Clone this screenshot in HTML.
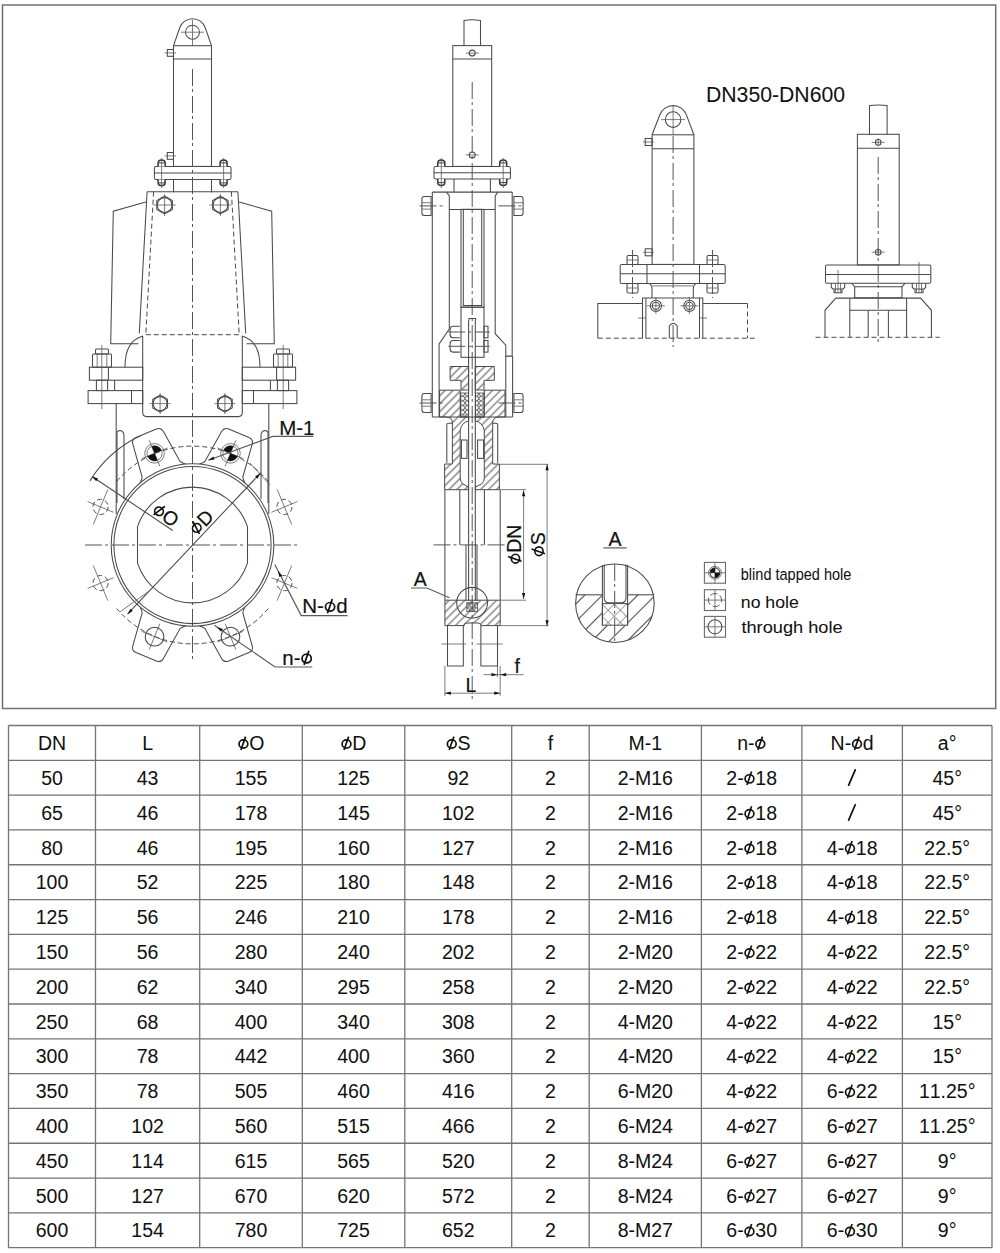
<!DOCTYPE html>
<html><head><meta charset="utf-8">
<style>
html,body{margin:0;padding:0;background:#fff;width:1000px;height:1253px;overflow:hidden}
svg{display:block;font-family:"Liberation Sans",sans-serif;font-kerning:none}
</style></head><body>
<svg width="1000" height="1253" viewBox="0 0 1000 1253">
<rect x="2.5" y="5" width="993.2" height="703.5" fill="none" stroke="#707070" stroke-width="1.5"/>
<style>
.s{fill:none;stroke:#4a4a4a;stroke-width:1.05}
.t{fill:none;stroke:#5a5a5a;stroke-width:0.8}
.d{fill:none;stroke:#4a4a4a;stroke-width:1;stroke-dasharray:5 3}
.cl{fill:none;stroke:#555;stroke-width:1;stroke-dasharray:17 3 3 4}
.sf{fill:#fff;stroke:#4a4a4a;stroke-width:1}
.ld{fill:none;stroke:#5a5a5a;stroke-width:1.2}
.nut{fill:#fff;stroke:#333;stroke-width:1.5}
.fill{fill:#111;stroke:none}
.phi{fill:none;stroke:#111}
.hat{fill:url(#hatch);stroke:#4a4a4a;stroke-width:1}
text{fill:#111;stroke:#111;stroke-width:0.18}
.tt text{stroke-width:0.04}
.lg text{stroke-width:0.05}
</style>
<defs>
<pattern id="xhatch" patternUnits="userSpaceOnUse" width="4.6" height="4.6" x="0.4" y="0.6">
<circle cx="2.3" cy="2.3" r="2.05" fill="none" stroke="#505050" stroke-width="0.9"/>
</pattern>
<pattern id="hatchA" patternUnits="userSpaceOnUse" width="12.5" height="12.5" patternTransform="rotate(45) translate(3 0)">
<line x1="6.25" y1="0" x2="6.25" y2="12.5" stroke="#4a4a4a" stroke-width="1.1"/>
</pattern>
<pattern id="xhatchA" patternUnits="userSpaceOnUse" width="8.6" height="8.6" patternTransform="rotate(45) translate(1 1)">
<line x1="0" y1="0" x2="0" y2="8.6" stroke="#4a4a4a" stroke-width="1"/>
<line x1="0" y1="0" x2="8.6" y2="0" stroke="#4a4a4a" stroke-width="1"/>
</pattern>
<pattern id="hatch" patternUnits="userSpaceOnUse" width="5.6" height="5.6" patternTransform="rotate(45)">
<line x1="2.8" y1="0" x2="2.8" y2="5.6" stroke="#505050" stroke-width="1"/>
</pattern>
</defs>
<path class="s" d="M173.50,45.70 L179.75,27.76 A13.5 13.5 0 0 1 205.25,27.76 L211.50,45.70" />
<circle class="s" cx="192.50" cy="32.20" r="7.00"/>
<line class="t" x1="181.00" y1="32.20" x2="204.00" y2="32.20"/>
<line class="t" x1="192.50" y1="20.00" x2="192.50" y2="45.70"/>
<rect class="s" x="173.50" y="45.70" width="38.00" height="120.70" rx="0"/>
<line class="s" x1="173.50" y1="59.00" x2="211.50" y2="59.00"/>
<line class="s" x1="173.50" y1="179.60" x2="173.50" y2="192.40"/>
<line class="s" x1="211.50" y1="179.60" x2="211.50" y2="192.40"/>
<rect class="s" x="167.30" y="49.50" width="6.20" height="6.80" rx="0"/>
<line class="t" x1="164.50" y1="52.90" x2="176.00" y2="52.90"/>
<rect class="s" x="167.30" y="152.50" width="6.20" height="6.80" rx="0"/>
<line class="t" x1="164.50" y1="155.90" x2="176.00" y2="155.90"/>
<rect class="s" x="154.40" y="166.40" width="76.60" height="13.20" rx="1.5"/>
<line class="s" x1="154.40" y1="173.00" x2="231.00" y2="173.00"/>
<path class="nut" d="M158.10,166.40 L158.10,162.88 Q158.10,160.00 161.60,160.00 Q165.10,160.00 165.10,162.88 L165.10,166.40" />
<line class="s" x1="158.10" y1="162.88" x2="165.10" y2="162.88"/>
<path class="nut" d="M158.10,179.60 L158.10,182.90 Q158.10,185.60 161.60,185.60 Q165.10,185.60 165.10,182.90 L165.10,179.60" />
<line class="s" x1="158.10" y1="182.90" x2="165.10" y2="182.90"/>
<line class="t" x1="161.60" y1="158.00" x2="161.60" y2="188.00"/>
<path class="nut" d="M220.10,166.40 L220.10,162.88 Q220.10,160.00 223.60,160.00 Q227.10,160.00 227.10,162.88 L227.10,166.40" />
<line class="s" x1="220.10" y1="162.88" x2="227.10" y2="162.88"/>
<path class="nut" d="M220.10,179.60 L220.10,182.90 Q220.10,185.60 223.60,185.60 Q227.10,185.60 227.10,182.90 L227.10,179.60" />
<line class="s" x1="220.10" y1="182.90" x2="227.10" y2="182.90"/>
<line class="t" x1="223.60" y1="158.00" x2="223.60" y2="188.00"/>
<line class="cl" x1="192.50" y1="69.00" x2="192.50" y2="662.00"/>
<path class="s" d="M147.10,191.70 L139.30,333.40"/>
<path class="s" d="M237.90,191.70 L245.70,333.40"/>
<line class="s" x1="147.10" y1="191.70" x2="237.90" y2="191.70"/>
<line class="d" x1="153.60" y1="191.70" x2="145.80" y2="334.70"/>
<line class="d" x1="231.40" y1="191.70" x2="239.20" y2="334.70"/>
<line class="d" x1="145.80" y1="334.70" x2="239.20" y2="334.70"/>
<path class="s" d="M145.80,202.10 L113.30,211.20 L110.70,343.80 L138.50,343.80"/>
<path class="s" d="M239.20,202.10 L271.70,211.20 L274.30,343.80 L246.50,343.80"/>
<path class="s" d="M172.39,209.50 L164.60,214.00 L156.81,209.50 L156.81,200.50 L164.60,196.00 L172.39,200.50 Z"/>
<circle class="s" cx="164.60" cy="205.00" r="7.40"/>
<line class="t" x1="153.60" y1="205.00" x2="175.60" y2="205.00"/>
<line class="t" x1="164.60" y1="194.00" x2="164.60" y2="216.00"/>
<path class="s" d="M228.19,209.50 L220.40,214.00 L212.61,209.50 L212.61,200.50 L220.40,196.00 L228.19,200.50 Z"/>
<circle class="s" cx="220.40" cy="205.00" r="7.40"/>
<line class="t" x1="209.40" y1="205.00" x2="231.40" y2="205.00"/>
<line class="t" x1="220.40" y1="194.00" x2="220.40" y2="216.00"/>
<path class="s" d="M142.7,336 L142.7,412.6 Q142.7,416.6 146.7,416.6 L238.3,416.6 Q242.3,416.6 242.3,412.6 L242.3,336" />
<path class="s" d="M167.46,407.85 L160.10,412.10 L152.74,407.85 L152.74,399.35 L160.10,395.10 L167.46,399.35 Z"/>
<circle class="s" cx="160.10" cy="403.60" r="6.99"/>
<line class="t" x1="149.60" y1="403.60" x2="170.60" y2="403.60"/>
<line class="t" x1="160.10" y1="393.10" x2="160.10" y2="414.10"/>
<path class="s" d="M232.26,407.85 L224.90,412.10 L217.54,407.85 L217.54,399.35 L224.90,395.10 L232.26,399.35 Z"/>
<circle class="s" cx="224.90" cy="403.60" r="6.99"/>
<line class="t" x1="214.40" y1="403.60" x2="235.40" y2="403.60"/>
<line class="t" x1="224.90" y1="393.10" x2="224.90" y2="414.10"/>
<path class="s" d="M125,367.2 C125,350 130,340 143,336" />
<path class="s" d="M260.0,367.2 C260.0,350 255.0,340 242.0,336" />
<rect class="s" x="89.40" y="367.20" width="53.30" height="13.00" rx="0"/>
<rect class="s" x="88.10" y="390.60" width="54.60" height="13.00" rx="0"/>
<line class="s" x1="108.40" y1="367.20" x2="108.40" y2="380.20"/>
<line class="s" x1="131.50" y1="390.60" x2="131.50" y2="403.60"/>
<line class="s" x1="114.60" y1="380.20" x2="114.60" y2="390.60"/>
<line class="t" x1="97.20" y1="354.00" x2="97.20" y2="367.20"/>
<line class="t" x1="106.80" y1="354.00" x2="106.80" y2="367.20"/>
<rect class="s" x="96.40" y="380.20" width="11.20" height="10.40" rx="0"/>
<rect class="s" x="92.50" y="354.00" width="19.00" height="13.20" rx="1"/>
<rect class="s" x="95.50" y="349.00" width="13.00" height="5.00" rx="1"/>
<line class="t" x1="101.80" y1="345.00" x2="101.80" y2="409.00"/>
<line class="s" x1="116.20" y1="403.60" x2="116.20" y2="514.00"/>
<path class="s" d="M117,503 L117,433 Q117,430.5 120,430.5 Q124,431 124,436 L124,499" />
<rect class="s" x="242.30" y="367.20" width="53.30" height="13.00" rx="0"/>
<rect class="s" x="242.30" y="390.60" width="54.60" height="13.00" rx="0"/>
<line class="s" x1="276.60" y1="367.20" x2="276.60" y2="380.20"/>
<line class="s" x1="253.50" y1="390.60" x2="253.50" y2="403.60"/>
<line class="s" x1="270.40" y1="380.20" x2="270.40" y2="390.60"/>
<line class="t" x1="287.80" y1="354.00" x2="287.80" y2="367.20"/>
<line class="t" x1="278.20" y1="354.00" x2="278.20" y2="367.20"/>
<rect class="s" x="277.40" y="380.20" width="11.20" height="10.40" rx="0"/>
<rect class="s" x="273.50" y="354.00" width="19.00" height="13.20" rx="1"/>
<rect class="s" x="276.50" y="349.00" width="13.00" height="5.00" rx="1"/>
<line class="t" x1="283.20" y1="345.00" x2="283.20" y2="409.00"/>
<line class="s" x1="268.80" y1="403.60" x2="268.80" y2="514.00"/>
<path class="s" d="M268.0,503 L268.0,433 Q268.0,430.5 265.0,430.5 Q261.0,431 261.0,436 L261.0,499" />
<circle class="s" cx="192.50" cy="545.00" r="81.30"/>
<circle class="s" cx="192.50" cy="545.00" r="78.60"/>
<path class="s" d="M137.50,526.91 A57.9 57.9 0 0 1 247.50,526.91 L247.50,563.09 A57.9 57.9 0 0 1 137.50,563.09 Z" />
<line class="cl" x1="85.00" y1="545.00" x2="300.00" y2="545.00"/>
<path class="d" d="M116.74,481.43 A98.9 98.9 0 0 1 268.26,481.43" />
<path class="d" d="M268.26,608.57 A98.9 98.9 0 0 1 116.74,608.57" />
<path class="s" d="M140.24,482.72 Q142.13,479.06 142.18,477.09 L132.79,444.17 Q131.41,439.33 136.03,437.42 L156.36,429.00 Q160.98,427.09 163.42,431.49 L180.06,461.40 Q181.49,462.75 185.41,464.01" />
<line class="t" x1="159.90" y1="466.29" x2="149.18" y2="440.42"/>
<line class="t" x1="141.60" y1="458.71" x2="167.47" y2="447.99"/>
<circle class="t" cx="154.54" cy="453.35" r="9.80"/>
<circle class="t" cx="154.54" cy="453.35" r="7.60"/>
<path class="fill" d="M154.54,453.35 L151.63,446.33 A7.6 7.6 0 0 1 161.56,450.44 Z" />
<path class="fill" d="M154.54,453.35 L157.45,460.37 A7.6 7.6 0 0 1 147.52,456.26 Z" />
<path class="s" d="M199.59,464.01 Q203.51,462.75 204.94,461.40 L221.58,431.49 Q224.02,427.09 228.64,429.00 L248.97,437.42 Q253.59,439.33 252.21,444.17 L242.82,477.09 Q242.87,479.06 244.76,482.72" />
<line class="t" x1="225.10" y1="466.29" x2="235.82" y2="440.42"/>
<line class="t" x1="217.53" y1="447.99" x2="243.40" y2="458.71"/>
<circle class="t" cx="230.46" cy="453.35" r="9.80"/>
<circle class="t" cx="230.46" cy="453.35" r="7.60"/>
<path class="fill" d="M230.46,453.35 L237.48,456.26 A7.6 7.6 0 0 1 227.55,460.37 Z" />
<path class="fill" d="M230.46,453.35 L223.44,450.44 A7.6 7.6 0 0 1 233.37,446.33 Z" />
<path class="s" d="M244.76,607.28 Q242.87,610.94 242.82,612.91 L252.21,645.83 Q253.59,650.67 248.97,652.58 L228.64,661.00 Q224.02,662.91 221.58,658.51 L204.94,628.60 Q203.51,627.25 199.59,625.99" />
<line class="t" x1="225.10" y1="623.71" x2="235.82" y2="649.58"/>
<line class="t" x1="243.40" y1="631.29" x2="217.53" y2="642.01"/>
<circle class="s" cx="230.46" cy="636.65" r="9.35"/>
<path class="s" d="M185.41,625.99 Q181.49,627.25 180.06,628.60 L163.42,658.51 Q160.98,662.91 156.36,661.00 L136.03,652.58 Q131.41,650.67 132.79,645.83 L142.18,612.91 Q142.13,610.94 140.24,607.28" />
<line class="t" x1="159.90" y1="623.71" x2="149.18" y2="649.58"/>
<line class="t" x1="167.47" y1="642.01" x2="141.60" y2="631.29"/>
<circle class="s" cx="154.54" cy="636.65" r="9.35"/>
<circle class="d" cx="100.57" cy="506.92" r="7.60"/>
<line class="t" x1="113.51" y1="512.28" x2="87.64" y2="501.57"/>
<line class="t" x1="93.30" y1="524.48" x2="107.84" y2="489.37"/>
<circle class="d" cx="284.43" cy="506.92" r="7.60"/>
<line class="t" x1="271.49" y1="512.28" x2="297.36" y2="501.57"/>
<line class="t" x1="277.16" y1="489.37" x2="291.70" y2="524.48"/>
<circle class="d" cx="284.43" cy="583.08" r="7.60"/>
<line class="t" x1="271.49" y1="577.72" x2="297.36" y2="588.43"/>
<line class="t" x1="291.70" y1="565.52" x2="277.16" y2="600.63"/>
<circle class="d" cx="100.57" cy="583.08" r="7.60"/>
<line class="t" x1="113.51" y1="577.72" x2="87.64" y2="588.43"/>
<line class="t" x1="107.84" y1="600.63" x2="93.30" y2="565.52"/>
<path class="s" d="M89.89,480.88 A121 121 0 0 1 141.36,435.34" />
<line class="s" x1="92.10" y1="476.50" x2="172.70" y2="530.50"/>
<line class="s" x1="127.50" y1="614.20" x2="260.40" y2="473.20"/>
<line class="t" x1="119.80" y1="612.00" x2="150.60" y2="590.00"/>
<line class="t" x1="270.00" y1="485.00" x2="250.00" y2="463.00"/>
<path class="fill" d="M92.10,476.50 L97.98,478.51 L96.19,481.17 Z" />
<path class="fill" d="M127.50,614.20 L130.45,608.74 L132.78,610.93 Z" />
<path class="fill" d="M260.40,473.20 L257.45,478.66 L255.12,476.47 Z" />
<path class="ld" d="M208.40,460.20 L272.80,436.40 L313.40,436.40"/>
<path class="fill" d="M208.40,460.20 L213.47,456.62 L214.58,459.62 Z" />
<text x="279.20" y="434.60" font-size="20.5" text-anchor="start" >M-1</text>
<path class="ld" d="M274.80,564.40 L301.20,615.60 L347.60,615.60"/>
<path class="fill" d="M278.00,571.00 L282.19,575.58 L279.35,577.06 Z" />
<g><text x="302.30" y="613.20" font-size="20.5" text-anchor="start">N-</text><g class="phi" stroke-width="1.74"><ellipse cx="330.08" cy="606.85" rx="4.61" ry="4.35"/><line x1="327.42" y1="613.20" x2="332.34" y2="599.06"/></g><text x="336.23" y="613.20" font-size="20.5" text-anchor="start">d</text></g>
<path class="ld" d="M214.40,625.20 L275.00,667.00 L312.30,667.00"/>
<path class="fill" d="M217.00,627.00 L222.85,629.09 L221.03,631.72 Z" />
<g><text x="282.30" y="664.90" font-size="20.5" text-anchor="start">n-</text><g class="phi" stroke-width="1.74"><ellipse cx="306.68" cy="658.54" rx="4.61" ry="4.35"/><line x1="304.01" y1="664.90" x2="308.93" y2="650.75"/></g></g>
<g transform="rotate(33.5 162.00 520.50)"><g class="phi" stroke-width="1.66"><ellipse cx="154.42" cy="514.46" rx="4.39" ry="4.13"/><line x1="151.88" y1="520.50" x2="156.56" y2="507.05"/></g><text x="160.27" y="520.50" font-size="19.5" text-anchor="start">O</text></g>
<g transform="rotate(-46.5 206.00 527.00)"><g class="phi" stroke-width="1.66"><ellipse cx="198.96" cy="520.96" rx="4.39" ry="4.13"/><line x1="196.42" y1="527.00" x2="201.10" y2="513.54"/></g><text x="204.81" y="527.00" font-size="19.5" text-anchor="start">D</text></g>
<path class="s" d="M464,45.6 L464,20.6 Q472.2,19 480.5,20.6 L480.5,45.6" />
<rect class="s" x="452.80" y="45.60" width="38.90" height="120.80" rx="0"/>
<line class="s" x1="452.80" y1="58.90" x2="491.70" y2="58.90"/>
<circle class="s" cx="472.20" cy="53.10" r="3.00"/>
<line class="t" x1="465.70" y1="53.10" x2="478.70" y2="53.10"/>
<circle class="s" cx="472.20" cy="154.90" r="3.00"/>
<line class="t" x1="465.70" y1="154.90" x2="478.70" y2="154.90"/>
<rect class="s" x="434.00" y="166.40" width="76.40" height="12.50" rx="1.5"/>
<line class="s" x1="434.00" y1="172.80" x2="510.40" y2="172.80"/>
<path class="nut" d="M437.80,166.40 L437.80,162.88 Q437.80,160.00 441.30,160.00 Q444.80,160.00 444.80,162.88 L444.80,166.40" />
<line class="s" x1="437.80" y1="162.88" x2="444.80" y2="162.88"/>
<path class="nut" d="M437.80,178.90 L437.80,182.59 Q437.80,185.60 441.30,185.60 Q444.80,185.60 444.80,182.59 L444.80,178.90" />
<line class="s" x1="437.80" y1="182.59" x2="444.80" y2="182.59"/>
<line class="t" x1="441.30" y1="158.00" x2="441.30" y2="188.00"/>
<path class="nut" d="M499.70,166.40 L499.70,162.88 Q499.70,160.00 503.20,160.00 Q506.70,160.00 506.70,162.88 L506.70,166.40" />
<line class="s" x1="499.70" y1="162.88" x2="506.70" y2="162.88"/>
<path class="nut" d="M499.70,178.90 L499.70,182.59 Q499.70,185.60 503.20,185.60 Q506.70,185.60 506.70,182.59 L506.70,178.90" />
<line class="s" x1="499.70" y1="182.59" x2="506.70" y2="182.59"/>
<line class="t" x1="503.20" y1="158.00" x2="503.20" y2="188.00"/>
<line class="s" x1="454.00" y1="178.90" x2="454.00" y2="192.10"/>
<line class="s" x1="490.40" y1="178.90" x2="490.40" y2="192.10"/>
<line class="cl" x1="472.20" y1="82.00" x2="472.20" y2="700.00"/>
<line class="s" x1="432.30" y1="192.10" x2="512.20" y2="192.10"/>
<line class="s" x1="432.30" y1="192.10" x2="432.30" y2="417.00"/>
<path class="s" d="M512.20,192.10 L512.20,356.10 L505.80,356.10"/>
<path class="s" d="M446.60,192.10 L449.30,195.90 L449.30,329.10 L439.10,344.00 L439.10,417.00"/>
<path class="s" d="M497.80,192.10 L495.20,195.90 L495.20,333.70 L505.80,345.20 L505.80,417.00"/>
<line class="s" x1="449.30" y1="209.40" x2="495.20" y2="209.40"/>
<line class="s" x1="432.30" y1="417.00" x2="512.60" y2="417.00"/>
<line class="s" x1="512.60" y1="356.10" x2="512.60" y2="417.00"/>
<path class="s" d="M431.10,196.40 L423.90,196.40 Q421.90,196.40 421.90,199.40 L421.90,212.40 Q421.90,215.40 423.90,215.40 L431.10,215.40 Z" />
<line class="t" x1="431.10" y1="202.70" x2="421.90" y2="202.70"/>
<line class="t" x1="431.10" y1="209.10" x2="421.90" y2="209.10"/>
<path class="s" d="M513.90,196.40 L521.10,196.40 Q523.10,196.40 523.10,199.40 L523.10,212.40 Q523.10,215.40 521.10,215.40 L513.90,215.40 Z" />
<line class="t" x1="513.90" y1="202.70" x2="523.10" y2="202.70"/>
<line class="t" x1="513.90" y1="209.10" x2="523.10" y2="209.10"/>
<line class="cl" x1="419.60" y1="205.90" x2="446.00" y2="205.90"/>
<line class="cl" x1="498.40" y1="205.90" x2="523.70" y2="205.90"/>
<path class="s" d="M431.10,393.50 L423.90,393.50 Q421.90,393.50 421.90,396.50 L421.90,409.50 Q421.90,412.50 423.90,412.50 L431.10,412.50 Z" />
<line class="t" x1="431.10" y1="399.80" x2="421.90" y2="399.80"/>
<line class="t" x1="431.10" y1="406.20" x2="421.90" y2="406.20"/>
<path class="s" d="M513.90,393.50 L521.10,393.50 Q523.10,393.50 523.10,396.50 L523.10,409.50 Q523.10,412.50 521.10,412.50 L513.90,412.50 Z" />
<line class="t" x1="513.90" y1="399.80" x2="523.10" y2="399.80"/>
<line class="t" x1="513.90" y1="406.20" x2="523.10" y2="406.20"/>
<line class="cl" x1="419.60" y1="403.00" x2="446.00" y2="403.00"/>
<line class="cl" x1="498.40" y1="403.00" x2="523.70" y2="403.00"/>
<rect class="s" x="461.00" y="209.40" width="23.00" height="97.80" rx="0"/>
<rect class="s" x="463.30" y="209.40" width="18.40" height="96.10" rx="0"/>
<rect class="s" x="461.00" y="307.20" width="23.00" height="50.10" rx="0"/>
<path class="s" d="M459.8,326.20 L453,326.20 Q450.1,326.20 450.1,329.20 L450.1,334.80 Q450.1,337.80 453,337.80 L459.8,337.80" />
<rect class="s" x="484.00" y="326.20" width="4.00" height="11.60" rx="0"/>
<line class="cl" x1="448.30" y1="332.00" x2="489.70" y2="332.00"/>
<path class="s" d="M459.8,340.50 L453,340.50 Q450.1,340.50 450.1,343.50 L450.1,349.10 Q450.1,352.10 453,352.10 L459.8,352.10" />
<rect class="s" x="484.00" y="340.50" width="4.00" height="11.60" rx="0"/>
<line class="cl" x1="448.30" y1="346.30" x2="489.70" y2="346.30"/>
<path class="hat" d="M450.1,366.5 L468.6,366.5 L468.6,390 L461,390 L461,380.3 L450.1,380.3 Z" />
<path class="hat" d="M475.3,366.5 L494.3,366.5 L494.3,380.3 L484,380.3 L484,390 L475.3,390 Z" />
<path class="hat" d="M439.6,390.2 L460.2,390.2 L460.2,417 L468.6,417 L468.6,421 Q462,422 460.2,430 L460.2,478 Q460.2,482 463,484 L468.6,487 L468.6,489.7 L444.6,489.7 L444.6,464 L452.4,464 L452.4,423 Q452.4,417 446,417 L439.6,417 Z" />
<path class="hat" d="M505,390.2 L484.3,390.2 L484.3,417 L475.3,417 L475.3,421 Q482,422 484.3,430 L484.3,478 Q484.3,482 481.5,484 L475.3,487 L475.3,489.7 L499.4,489.7 L499.4,464 L492.7,464 L492.7,423 Q492.7,417 499,417 L505,417 Z" />
<rect x="460.4" y="393" width="8" height="24" fill="url(#xhatch)" stroke="#4a4a4a" stroke-width="0.8"/>
<rect x="475.5" y="393" width="8.6" height="24" fill="url(#xhatch)" stroke="#4a4a4a" stroke-width="0.8"/>
<path class="s" d="M446.8,462.8 L446.8,425 Q446.8,423.2 448.6,423.2 L452.4,423.2" />
<path class="s" d="M497.7,462.8 L497.7,425 Q497.7,423.2 495.9,423.2 L492.7,423.2" />
<rect class="s" x="461.40" y="440.00" width="5.60" height="18.40" rx="0"/>
<rect class="s" x="477.60" y="440.00" width="6.00" height="18.40" rx="0"/>
<line class="s" x1="468.60" y1="320.10" x2="468.60" y2="601.00"/>
<line class="s" x1="475.30" y1="320.10" x2="475.30" y2="601.00"/>
<path class="s" d="M469,320.1 L469,318.5 L475.6,318.5 L475.6,320.1" />
<line class="s" x1="466.00" y1="545.00" x2="466.00" y2="601.00"/>
<line class="s" x1="477.00" y1="545.00" x2="477.00" y2="601.00"/>
<line class="s" x1="444.90" y1="489.70" x2="444.90" y2="600.20"/>
<line class="s" x1="500.20" y1="489.70" x2="500.20" y2="600.20"/>
<line class="s" x1="459.80" y1="489.70" x2="459.80" y2="545.00"/>
<line class="s" x1="484.40" y1="489.70" x2="484.40" y2="545.00"/>
<line class="cl" x1="433.50" y1="544.90" x2="507.00" y2="544.90"/>
<path class="hat" d="M444.9,600.2 L500.2,600.2 L500.2,625.6 L480.9,625.6 Q480.9,623 478,623 L467,623 Q464.2,623 464.2,625.6 L444.9,625.6 Z" />
<rect x="466.8" y="602.8" width="10.6" height="8.8" fill="url(#xhatch)" stroke="#4a4a4a" stroke-width="0.8"/>
<circle class="s" cx="472.10" cy="602.80" r="15.40"/>
<path class="s" d="M447.50,625.60 L447.50,666.00 L463.30,666.00 L463.30,625.60"/>
<path class="s" d="M480.90,625.60 L480.90,666.00 L497.50,666.00 L497.50,625.60"/>
<line class="t" x1="441.40" y1="644.00" x2="466.00" y2="644.00"/>
<line class="t" x1="476.50" y1="644.00" x2="502.80" y2="644.00"/>
<line class="t" x1="500.20" y1="489.60" x2="526.00" y2="489.60"/>
<line class="t" x1="500.20" y1="600.20" x2="526.00" y2="600.20"/>
<line class="t" x1="523.60" y1="490.30" x2="523.60" y2="599.00"/>
<path class="fill" d="M523.60,490.30 L525.20,496.30 L522.00,496.30 Z" />
<path class="fill" d="M523.60,599.00 L522.00,593.00 L525.20,593.00 Z" />
<line class="t" x1="499.40" y1="464.30" x2="548.40" y2="464.30"/>
<line class="t" x1="500.20" y1="625.60" x2="548.40" y2="625.60"/>
<line class="t" x1="547.10" y1="464.30" x2="547.10" y2="626.30"/>
<path class="fill" d="M547.10,464.30 L548.70,470.30 L545.50,470.30 Z" />
<path class="fill" d="M547.10,626.30 L545.50,620.30 L548.70,620.30 Z" />
<g transform="rotate(-90 521.50 544.60)"><g class="phi" stroke-width="1.66"><ellipse cx="507.42" cy="538.56" rx="4.39" ry="4.13"/><line x1="504.88" y1="544.60" x2="509.56" y2="531.14"/></g><text x="513.27" y="544.60" font-size="19.5" text-anchor="start">DN</text></g>
<g transform="rotate(-90 545.00 544.70)"><g class="phi" stroke-width="1.66"><ellipse cx="538.50" cy="538.66" rx="4.39" ry="4.13"/><line x1="535.96" y1="544.70" x2="540.64" y2="531.25"/></g><text x="544.35" y="544.70" font-size="19.5" text-anchor="start">S</text></g>
<text x="413.70" y="585.50" font-size="19.5" text-anchor="start" >A</text>
<path class="ld" d="M411.00,588.00 L427.00,588.00 L449.50,597.80"/>
<line class="t" x1="444.90" y1="666.00" x2="444.90" y2="695.80"/>
<line class="t" x1="500.20" y1="666.00" x2="500.20" y2="695.80"/>
<line class="t" x1="444.90" y1="693.20" x2="500.20" y2="693.20"/>
<path class="fill" d="M444.90,693.20 L450.90,691.60 L450.90,694.80 Z" />
<path class="fill" d="M500.20,693.20 L494.20,694.80 L494.20,691.60 Z" />
<text x="471.00" y="691.80" font-size="19.5" text-anchor="middle" >L</text>
<line class="t" x1="497.50" y1="666.00" x2="497.50" y2="677.00"/>
<line class="t" x1="483.50" y1="674.70" x2="523.60" y2="674.70"/>
<path class="fill" d="M497.50,674.70 L491.50,676.30 L491.50,673.10 Z" />
<path class="fill" d="M500.20,674.70 L506.20,673.10 L506.20,676.30 Z" />
<text x="514.50" y="673.20" font-size="19.5" text-anchor="start" >f</text>
<g class="lg">
<text x="706.00" y="102.40" font-size="21.5" text-anchor="start" textLength="139" lengthAdjust="spacingAndGlyphs">DN350-DN600</text>
</g>
<path class="s" d="M652.10,134.80 L659.85,114.69 A14.2 14.2 0 0 1 686.39,114.81 L693.90,134.80" />
<circle class="s" cx="673.10" cy="119.60" r="7.80"/>
<line class="t" x1="661.10" y1="119.60" x2="685.10" y2="119.60"/>
<line class="t" x1="673.10" y1="106.00" x2="673.10" y2="134.80"/>
<rect class="s" x="652.10" y="134.80" width="41.80" height="129.60" rx="0"/>
<line class="s" x1="652.10" y1="148.70" x2="693.90" y2="148.70"/>
<rect class="s" x="645.20" y="138.50" width="6.90" height="7.00" rx="0"/>
<line class="t" x1="643.00" y1="142.00" x2="654.00" y2="142.00"/>
<rect class="s" x="645.20" y="248.80" width="6.90" height="7.00" rx="0"/>
<line class="t" x1="643.00" y1="252.30" x2="654.00" y2="252.30"/>
<rect class="s" x="620.20" y="264.40" width="105.00" height="19.00" rx="1.5"/>
<line class="s" x1="620.20" y1="273.80" x2="725.20" y2="273.80"/>
<line class="s" x1="647.00" y1="264.40" x2="647.00" y2="283.40"/>
<line class="s" x1="699.50" y1="264.40" x2="699.50" y2="283.40"/>
<rect class="s" x="627.00" y="255.50" width="11.00" height="8.90" rx="1.5"/>
<line class="t" x1="627.00" y1="260.00" x2="638.00" y2="260.00"/>
<rect class="s" x="627.00" y="283.40" width="11.00" height="9.60" rx="1.5"/>
<line class="t" x1="627.00" y1="288.00" x2="638.00" y2="288.00"/>
<line class="cl" x1="632.50" y1="250.00" x2="632.50" y2="298.00"/>
<rect class="s" x="707.00" y="255.50" width="11.00" height="8.90" rx="1.5"/>
<line class="t" x1="707.00" y1="260.00" x2="718.00" y2="260.00"/>
<rect class="s" x="707.00" y="283.40" width="11.00" height="9.60" rx="1.5"/>
<line class="t" x1="707.00" y1="288.00" x2="718.00" y2="288.00"/>
<line class="cl" x1="712.50" y1="250.00" x2="712.50" y2="298.00"/>
<path class="s" d="M649.2,283.4 Q652,285 652,289 L652,298" />
<path class="s" d="M696.1,283.4 Q693.3,285 693.3,289 L693.3,298" />
<path class="s" d="M642.50,338.20 L642.50,298.00 L702.80,298.00 L702.80,338.20"/>
<line class="s" x1="645.90" y1="298.00" x2="645.90" y2="338.20"/>
<line class="s" x1="699.50" y1="298.00" x2="699.50" y2="338.20"/>
<line class="t" x1="652.00" y1="285.90" x2="693.30" y2="285.90"/>
<circle class="s" cx="655.90" cy="305.80" r="5.60"/>
<circle class="s" cx="655.90" cy="305.80" r="3.60"/>
<line class="t" x1="646.90" y1="305.80" x2="664.90" y2="305.80"/>
<line class="t" x1="655.90" y1="297.00" x2="655.90" y2="314.00"/>
<circle class="s" cx="689.40" cy="305.80" r="5.60"/>
<circle class="s" cx="689.40" cy="305.80" r="3.60"/>
<line class="t" x1="680.40" y1="305.80" x2="698.40" y2="305.80"/>
<line class="t" x1="689.40" y1="297.00" x2="689.40" y2="314.00"/>
<path class="s" d="M597.80,338.20 L597.80,303.50 L642.50,303.50"/>
<line class="s" x1="702.80" y1="303.50" x2="747.50" y2="303.50"/>
<line class="d" x1="747.50" y1="303.50" x2="747.50" y2="338.20"/>
<line class="d" x1="597.80" y1="338.20" x2="755.40" y2="338.20"/>
<path class="s" d="M669.3,338.2 L669.3,326 Q673.2,320.5 677.2,326 L677.2,338.2" />
<line class="t" x1="638.00" y1="318.00" x2="646.00" y2="318.00"/>
<line class="t" x1="699.00" y1="318.00" x2="707.00" y2="318.00"/>
<line class="cl" x1="673.10" y1="136.00" x2="673.10" y2="347.00"/>
<path class="s" d="M869.5,134.3 L869.5,105.6 Q878.2,104.4 887.1,105.6 L887.1,134.3" />
<rect class="s" x="857.40" y="134.30" width="41.80" height="130.60" rx="0"/>
<line class="s" x1="857.40" y1="148.30" x2="899.20" y2="148.30"/>
<circle class="s" cx="878.20" cy="142.40" r="2.80"/>
<line class="t" x1="871.70" y1="142.40" x2="884.70" y2="142.40"/>
<line class="t" x1="878.20" y1="138.40" x2="878.20" y2="146.40"/>
<circle class="s" cx="878.20" cy="252.20" r="2.80"/>
<line class="t" x1="871.70" y1="252.20" x2="884.70" y2="252.20"/>
<line class="t" x1="878.20" y1="248.20" x2="878.20" y2="256.20"/>
<rect class="s" x="825.50" y="264.90" width="105.30" height="18.40" rx="1.5"/>
<line class="s" x1="825.50" y1="274.40" x2="930.80" y2="274.40"/>
<line class="t" x1="838.00" y1="270.00" x2="838.00" y2="292.70"/>
<path class="s" d="M831.3,283.3 L831.3,287.5 L833,289 L843,289 L844.7,287.5 L844.7,283.3" />
<path class="s" d="M834,289 L834,292.7 L842,292.7 L842,289" />
<line class="t" x1="835.50" y1="283.30" x2="835.50" y2="292.70"/>
<line class="t" x1="840.50" y1="283.30" x2="840.50" y2="292.70"/>
<line class="t" x1="919.00" y1="262.00" x2="919.00" y2="292.70"/>
<path class="s" d="M912.3,283.3 L912.3,287.5 L914,289 L924,289 L925.7,287.5 L925.7,283.3" />
<path class="s" d="M915,289 L915,292.7 L923,292.7 L923,289" />
<line class="t" x1="916.50" y1="283.30" x2="916.50" y2="292.70"/>
<line class="t" x1="921.50" y1="283.30" x2="921.50" y2="292.70"/>
<path class="s" d="M851.7,283.3 L854.7,286.7 L854.7,297.7 L902,297.7 L902,286.7 L905,283.3" />
<line class="s" x1="854.70" y1="286.70" x2="902.00" y2="286.70"/>
<path class="s" d="M825.00,337.30 L825.00,310.30 L835.80,298.10 L920.60,298.10 L931.40,310.30 L931.40,337.30"/>
<line class="s" x1="849.80" y1="298.10" x2="849.80" y2="337.30"/>
<line class="s" x1="906.60" y1="298.10" x2="906.60" y2="337.30"/>
<line class="s" x1="849.80" y1="310.30" x2="906.60" y2="310.30"/>
<line class="s" x1="868.20" y1="310.30" x2="868.20" y2="337.30"/>
<line class="s" x1="888.40" y1="310.30" x2="888.40" y2="337.30"/>
<line class="d" x1="815.50" y1="337.30" x2="939.70" y2="337.30"/>
<line class="cl" x1="878.20" y1="157.00" x2="878.20" y2="342.70"/>
<text x="615.00" y="546.00" font-size="19.5" text-anchor="middle" >A</text>
<line class="ld" x1="603.40" y1="547.90" x2="626.60" y2="547.90"/>
<clipPath id="cA"><circle cx="614.9" cy="603.2" r="39.3"/></clipPath>
<path clip-path="url(#cA)" d="M575.6,594.8 L602.4,594.8 L602.4,625.2 L627.6,625.2 L627.6,594.8 L654.1999999999999,594.8 L654.1999999999999,642.5 L575.6,642.5 Z" fill="url(#hatchA)" stroke="none"/>
<rect x="602.4" y="603.6" width="25.2" height="21.6" fill="url(#xhatchA)" stroke="#4a4a4a" stroke-width="1"/>
<circle class="s" cx="614.90" cy="603.20" r="39.30"/>
<line class="s" x1="575.60" y1="594.80" x2="602.40" y2="594.80"/>
<line class="s" x1="627.60" y1="594.80" x2="654.20" y2="594.80"/>
<line class="s" x1="602.40" y1="565.00" x2="602.40" y2="625.20"/>
<line class="s" x1="627.60" y1="565.00" x2="627.60" y2="625.20"/>
<path class="s" d="M604.2,564.5 L604.2,597.7 Q604.2,602.7 609.2,602.7 L621,602.7 Q626,602.7 626,597.7 L626,564.5" />
<line class="cl" x1="614.70" y1="564.00" x2="614.70" y2="642.00"/>
<rect x="704.4" y="562.4" width="21.1" height="20.8" fill="none" stroke="#6a6a6a" stroke-width="1.1"/>
<line class="t" x1="704.40" y1="572.80" x2="725.50" y2="572.80"/>
<line class="t" x1="714.95" y1="562.40" x2="714.95" y2="583.20"/>
<circle class="t" cx="714.95" cy="572.80" r="6.40"/>
<circle class="s" cx="714.95" cy="572.80" r="4.90"/>
<path class="fill" d="M714.95,572.8 L710.0500000000001,572.8 A4.9 4.9 0 0 1 714.95,567.9 Z" />
<path class="fill" d="M714.95,572.8 L719.85,572.8 A4.9 4.9 0 0 1 714.95,577.6999999999999 Z" />
<rect x="704.4" y="589.7" width="21.1" height="20.8" fill="none" stroke="#6a6a6a" stroke-width="1.1"/>
<line class="t" x1="704.40" y1="600.10" x2="725.50" y2="600.10"/>
<line class="t" x1="714.95" y1="589.70" x2="714.95" y2="610.50"/>
<circle cx="714.95" cy="600.1" r="6.6" fill="none" stroke="#4a4a4a" stroke-width="0.9" stroke-dasharray="7.4 2.96" stroke-dashoffset="-5.2"/>
<rect x="704.4" y="616.4" width="21.1" height="20.8" fill="none" stroke="#6a6a6a" stroke-width="1.1"/>
<line class="t" x1="704.40" y1="626.80" x2="725.50" y2="626.80"/>
<line class="t" x1="714.95" y1="616.40" x2="714.95" y2="637.20"/>
<circle class="s" cx="714.95" cy="626.80" r="7.00"/>
<g class="lg">
<text x="740.80" y="579.90" font-size="17" text-anchor="start" textLength="110.6" lengthAdjust="spacingAndGlyphs">blind tapped hole</text>
<text x="740.80" y="608.10" font-size="17" text-anchor="start" textLength="58" lengthAdjust="spacingAndGlyphs">no hole</text>
<text x="741.40" y="633.30" font-size="17" text-anchor="start" textLength="101.3" lengthAdjust="spacingAndGlyphs">through hole</text>
</g>
<g stroke="#747474" stroke-width="1.3" fill="none">
<line x1="8.5" y1="725.5" x2="8.5" y2="1247.7"/>
<line x1="95.5" y1="725.5" x2="95.5" y2="1247.7"/>
<line x1="199.7" y1="725.5" x2="199.7" y2="1247.7"/>
<line x1="302.3" y1="725.5" x2="302.3" y2="1247.7"/>
<line x1="404.8" y1="725.5" x2="404.8" y2="1247.7"/>
<line x1="511.7" y1="725.5" x2="511.7" y2="1247.7"/>
<line x1="589.2" y1="725.5" x2="589.2" y2="1247.7"/>
<line x1="701.4" y1="725.5" x2="701.4" y2="1247.7"/>
<line x1="801.9" y1="725.5" x2="801.9" y2="1247.7"/>
<line x1="902.4" y1="725.5" x2="902.4" y2="1247.7"/>
<line x1="992" y1="725.5" x2="992" y2="1247.7"/>
<line x1="8.5" y1="725.50" x2="992" y2="725.50"/>
<line x1="8.5" y1="760.31" x2="992" y2="760.31"/>
<line x1="8.5" y1="795.13" x2="992" y2="795.13"/>
<line x1="8.5" y1="829.94" x2="992" y2="829.94"/>
<line x1="8.5" y1="864.75" x2="992" y2="864.75"/>
<line x1="8.5" y1="899.57" x2="992" y2="899.57"/>
<line x1="8.5" y1="934.38" x2="992" y2="934.38"/>
<line x1="8.5" y1="969.19" x2="992" y2="969.19"/>
<line x1="8.5" y1="1004.01" x2="992" y2="1004.01"/>
<line x1="8.5" y1="1038.82" x2="992" y2="1038.82"/>
<line x1="8.5" y1="1073.63" x2="992" y2="1073.63"/>
<line x1="8.5" y1="1108.45" x2="992" y2="1108.45"/>
<line x1="8.5" y1="1143.26" x2="992" y2="1143.26"/>
<line x1="8.5" y1="1178.07" x2="992" y2="1178.07"/>
<line x1="8.5" y1="1212.89" x2="992" y2="1212.89"/>
<line x1="8.5" y1="1247.70" x2="992" y2="1247.70"/>
</g>
<g class="tt">
<text x="52.00" y="750.10" font-size="19.5" text-anchor="middle" >DN</text>
<text x="147.60" y="750.10" font-size="19.5" text-anchor="middle" >L</text>
<g><g class="phi" stroke-width="1.66"><ellipse cx="243.42" cy="744.06" rx="4.39" ry="4.13"/><line x1="240.88" y1="750.10" x2="245.56" y2="736.64"/></g><text x="249.27" y="750.10" font-size="19.5" text-anchor="start">O</text></g>
<g><g class="phi" stroke-width="1.66"><ellipse cx="346.51" cy="744.06" rx="4.39" ry="4.13"/><line x1="343.97" y1="750.10" x2="348.65" y2="736.64"/></g><text x="352.36" y="750.10" font-size="19.5" text-anchor="start">D</text></g>
<g><g class="phi" stroke-width="1.66"><ellipse cx="451.75" cy="744.06" rx="4.39" ry="4.13"/><line x1="449.21" y1="750.10" x2="453.89" y2="736.64"/></g><text x="457.60" y="750.10" font-size="19.5" text-anchor="start">S</text></g>
<text x="550.45" y="750.10" font-size="19.5" text-anchor="middle" >f</text>
<text x="645.30" y="750.10" font-size="19.5" text-anchor="middle" >M-1</text>
<g><text x="737.13" y="750.10" font-size="19.5" text-anchor="start">n-</text><g class="phi" stroke-width="1.66"><ellipse cx="760.32" cy="744.06" rx="4.39" ry="4.13"/><line x1="757.78" y1="750.10" x2="762.46" y2="736.64"/></g></g>
<g><text x="830.59" y="750.10" font-size="19.5" text-anchor="start">N-</text><g class="phi" stroke-width="1.66"><ellipse cx="857.02" cy="744.06" rx="4.39" ry="4.13"/><line x1="854.48" y1="750.10" x2="859.16" y2="736.64"/></g><text x="862.87" y="750.10" font-size="19.5" text-anchor="start">d</text></g>
<text x="947.20" y="750.10" font-size="19.5" text-anchor="middle" >a°</text>
<text x="52.00" y="784.91" font-size="19.5" text-anchor="middle" >50</text>
<text x="147.60" y="784.91" font-size="19.5" text-anchor="middle" >43</text>
<text x="251.00" y="784.91" font-size="19.5" text-anchor="middle" >155</text>
<text x="353.55" y="784.91" font-size="19.5" text-anchor="middle" >125</text>
<text x="458.25" y="784.91" font-size="19.5" text-anchor="middle" >92</text>
<text x="550.45" y="784.91" font-size="19.5" text-anchor="middle" >2</text>
<text x="645.30" y="784.91" font-size="19.5" text-anchor="middle" >2-M16</text>
<g><text x="726.29" y="784.91" font-size="19.5" text-anchor="start">2-</text><g class="phi" stroke-width="1.66"><ellipse cx="749.47" cy="778.87" rx="4.39" ry="4.13"/><line x1="746.94" y1="784.91" x2="751.62" y2="771.46"/></g><text x="755.32" y="784.91" font-size="19.5" text-anchor="start">18</text></g>
<line x1="848.65" y1="785.21" x2="855.25" y2="769.91" stroke="#111" stroke-width="1.75" stroke-linecap="round"/>
<text x="947.20" y="784.91" font-size="19.5" text-anchor="middle" >45°</text>
<text x="52.00" y="819.73" font-size="19.5" text-anchor="middle" >65</text>
<text x="147.60" y="819.73" font-size="19.5" text-anchor="middle" >46</text>
<text x="251.00" y="819.73" font-size="19.5" text-anchor="middle" >178</text>
<text x="353.55" y="819.73" font-size="19.5" text-anchor="middle" >145</text>
<text x="458.25" y="819.73" font-size="19.5" text-anchor="middle" >102</text>
<text x="550.45" y="819.73" font-size="19.5" text-anchor="middle" >2</text>
<text x="645.30" y="819.73" font-size="19.5" text-anchor="middle" >2-M16</text>
<g><text x="726.29" y="819.73" font-size="19.5" text-anchor="start">2-</text><g class="phi" stroke-width="1.66"><ellipse cx="749.47" cy="813.68" rx="4.39" ry="4.13"/><line x1="746.94" y1="819.73" x2="751.62" y2="806.27"/></g><text x="755.32" y="819.73" font-size="19.5" text-anchor="start">18</text></g>
<line x1="848.65" y1="820.03" x2="855.25" y2="804.73" stroke="#111" stroke-width="1.75" stroke-linecap="round"/>
<text x="947.20" y="819.73" font-size="19.5" text-anchor="middle" >45°</text>
<text x="52.00" y="854.54" font-size="19.5" text-anchor="middle" >80</text>
<text x="147.60" y="854.54" font-size="19.5" text-anchor="middle" >46</text>
<text x="251.00" y="854.54" font-size="19.5" text-anchor="middle" >195</text>
<text x="353.55" y="854.54" font-size="19.5" text-anchor="middle" >160</text>
<text x="458.25" y="854.54" font-size="19.5" text-anchor="middle" >127</text>
<text x="550.45" y="854.54" font-size="19.5" text-anchor="middle" >2</text>
<text x="645.30" y="854.54" font-size="19.5" text-anchor="middle" >2-M16</text>
<g><text x="726.29" y="854.54" font-size="19.5" text-anchor="start">2-</text><g class="phi" stroke-width="1.66"><ellipse cx="749.47" cy="848.50" rx="4.39" ry="4.13"/><line x1="746.94" y1="854.54" x2="751.62" y2="841.09"/></g><text x="755.32" y="854.54" font-size="19.5" text-anchor="start">18</text></g>
<g><text x="826.79" y="854.54" font-size="19.5" text-anchor="start">4-</text><g class="phi" stroke-width="1.66"><ellipse cx="849.97" cy="848.50" rx="4.39" ry="4.13"/><line x1="847.44" y1="854.54" x2="852.12" y2="841.09"/></g><text x="855.82" y="854.54" font-size="19.5" text-anchor="start">18</text></g>
<text x="947.20" y="854.54" font-size="19.5" text-anchor="middle" >22.5°</text>
<text x="52.00" y="889.35" font-size="19.5" text-anchor="middle" >100</text>
<text x="147.60" y="889.35" font-size="19.5" text-anchor="middle" >52</text>
<text x="251.00" y="889.35" font-size="19.5" text-anchor="middle" >225</text>
<text x="353.55" y="889.35" font-size="19.5" text-anchor="middle" >180</text>
<text x="458.25" y="889.35" font-size="19.5" text-anchor="middle" >148</text>
<text x="550.45" y="889.35" font-size="19.5" text-anchor="middle" >2</text>
<text x="645.30" y="889.35" font-size="19.5" text-anchor="middle" >2-M16</text>
<g><text x="726.29" y="889.35" font-size="19.5" text-anchor="start">2-</text><g class="phi" stroke-width="1.66"><ellipse cx="749.47" cy="883.31" rx="4.39" ry="4.13"/><line x1="746.94" y1="889.35" x2="751.62" y2="875.90"/></g><text x="755.32" y="889.35" font-size="19.5" text-anchor="start">18</text></g>
<g><text x="826.79" y="889.35" font-size="19.5" text-anchor="start">4-</text><g class="phi" stroke-width="1.66"><ellipse cx="849.97" cy="883.31" rx="4.39" ry="4.13"/><line x1="847.44" y1="889.35" x2="852.12" y2="875.90"/></g><text x="855.82" y="889.35" font-size="19.5" text-anchor="start">18</text></g>
<text x="947.20" y="889.35" font-size="19.5" text-anchor="middle" >22.5°</text>
<text x="52.00" y="924.17" font-size="19.5" text-anchor="middle" >125</text>
<text x="147.60" y="924.17" font-size="19.5" text-anchor="middle" >56</text>
<text x="251.00" y="924.17" font-size="19.5" text-anchor="middle" >246</text>
<text x="353.55" y="924.17" font-size="19.5" text-anchor="middle" >210</text>
<text x="458.25" y="924.17" font-size="19.5" text-anchor="middle" >178</text>
<text x="550.45" y="924.17" font-size="19.5" text-anchor="middle" >2</text>
<text x="645.30" y="924.17" font-size="19.5" text-anchor="middle" >2-M16</text>
<g><text x="726.29" y="924.17" font-size="19.5" text-anchor="start">2-</text><g class="phi" stroke-width="1.66"><ellipse cx="749.47" cy="918.12" rx="4.39" ry="4.13"/><line x1="746.94" y1="924.17" x2="751.62" y2="910.71"/></g><text x="755.32" y="924.17" font-size="19.5" text-anchor="start">18</text></g>
<g><text x="826.79" y="924.17" font-size="19.5" text-anchor="start">4-</text><g class="phi" stroke-width="1.66"><ellipse cx="849.97" cy="918.12" rx="4.39" ry="4.13"/><line x1="847.44" y1="924.17" x2="852.12" y2="910.71"/></g><text x="855.82" y="924.17" font-size="19.5" text-anchor="start">18</text></g>
<text x="947.20" y="924.17" font-size="19.5" text-anchor="middle" >22.5°</text>
<text x="52.00" y="958.98" font-size="19.5" text-anchor="middle" >150</text>
<text x="147.60" y="958.98" font-size="19.5" text-anchor="middle" >56</text>
<text x="251.00" y="958.98" font-size="19.5" text-anchor="middle" >280</text>
<text x="353.55" y="958.98" font-size="19.5" text-anchor="middle" >240</text>
<text x="458.25" y="958.98" font-size="19.5" text-anchor="middle" >202</text>
<text x="550.45" y="958.98" font-size="19.5" text-anchor="middle" >2</text>
<text x="645.30" y="958.98" font-size="19.5" text-anchor="middle" >2-M20</text>
<g><text x="726.29" y="958.98" font-size="19.5" text-anchor="start">2-</text><g class="phi" stroke-width="1.66"><ellipse cx="749.47" cy="952.94" rx="4.39" ry="4.13"/><line x1="746.94" y1="958.98" x2="751.62" y2="945.53"/></g><text x="755.32" y="958.98" font-size="19.5" text-anchor="start">22</text></g>
<g><text x="826.79" y="958.98" font-size="19.5" text-anchor="start">4-</text><g class="phi" stroke-width="1.66"><ellipse cx="849.97" cy="952.94" rx="4.39" ry="4.13"/><line x1="847.44" y1="958.98" x2="852.12" y2="945.53"/></g><text x="855.82" y="958.98" font-size="19.5" text-anchor="start">22</text></g>
<text x="947.20" y="958.98" font-size="19.5" text-anchor="middle" >22.5°</text>
<text x="52.00" y="993.79" font-size="19.5" text-anchor="middle" >200</text>
<text x="147.60" y="993.79" font-size="19.5" text-anchor="middle" >62</text>
<text x="251.00" y="993.79" font-size="19.5" text-anchor="middle" >340</text>
<text x="353.55" y="993.79" font-size="19.5" text-anchor="middle" >295</text>
<text x="458.25" y="993.79" font-size="19.5" text-anchor="middle" >258</text>
<text x="550.45" y="993.79" font-size="19.5" text-anchor="middle" >2</text>
<text x="645.30" y="993.79" font-size="19.5" text-anchor="middle" >2-M20</text>
<g><text x="726.29" y="993.79" font-size="19.5" text-anchor="start">2-</text><g class="phi" stroke-width="1.66"><ellipse cx="749.47" cy="987.75" rx="4.39" ry="4.13"/><line x1="746.94" y1="993.79" x2="751.62" y2="980.34"/></g><text x="755.32" y="993.79" font-size="19.5" text-anchor="start">22</text></g>
<g><text x="826.79" y="993.79" font-size="19.5" text-anchor="start">4-</text><g class="phi" stroke-width="1.66"><ellipse cx="849.97" cy="987.75" rx="4.39" ry="4.13"/><line x1="847.44" y1="993.79" x2="852.12" y2="980.34"/></g><text x="855.82" y="993.79" font-size="19.5" text-anchor="start">22</text></g>
<text x="947.20" y="993.79" font-size="19.5" text-anchor="middle" >22.5°</text>
<text x="52.00" y="1028.61" font-size="19.5" text-anchor="middle" >250</text>
<text x="147.60" y="1028.61" font-size="19.5" text-anchor="middle" >68</text>
<text x="251.00" y="1028.61" font-size="19.5" text-anchor="middle" >400</text>
<text x="353.55" y="1028.61" font-size="19.5" text-anchor="middle" >340</text>
<text x="458.25" y="1028.61" font-size="19.5" text-anchor="middle" >308</text>
<text x="550.45" y="1028.61" font-size="19.5" text-anchor="middle" >2</text>
<text x="645.30" y="1028.61" font-size="19.5" text-anchor="middle" >4-M20</text>
<g><text x="726.29" y="1028.61" font-size="19.5" text-anchor="start">4-</text><g class="phi" stroke-width="1.66"><ellipse cx="749.47" cy="1022.56" rx="4.39" ry="4.13"/><line x1="746.94" y1="1028.61" x2="751.62" y2="1015.15"/></g><text x="755.32" y="1028.61" font-size="19.5" text-anchor="start">22</text></g>
<g><text x="826.79" y="1028.61" font-size="19.5" text-anchor="start">4-</text><g class="phi" stroke-width="1.66"><ellipse cx="849.97" cy="1022.56" rx="4.39" ry="4.13"/><line x1="847.44" y1="1028.61" x2="852.12" y2="1015.15"/></g><text x="855.82" y="1028.61" font-size="19.5" text-anchor="start">22</text></g>
<text x="947.20" y="1028.61" font-size="19.5" text-anchor="middle" >15°</text>
<text x="52.00" y="1063.42" font-size="19.5" text-anchor="middle" >300</text>
<text x="147.60" y="1063.42" font-size="19.5" text-anchor="middle" >78</text>
<text x="251.00" y="1063.42" font-size="19.5" text-anchor="middle" >442</text>
<text x="353.55" y="1063.42" font-size="19.5" text-anchor="middle" >400</text>
<text x="458.25" y="1063.42" font-size="19.5" text-anchor="middle" >360</text>
<text x="550.45" y="1063.42" font-size="19.5" text-anchor="middle" >2</text>
<text x="645.30" y="1063.42" font-size="19.5" text-anchor="middle" >4-M20</text>
<g><text x="726.29" y="1063.42" font-size="19.5" text-anchor="start">4-</text><g class="phi" stroke-width="1.66"><ellipse cx="749.47" cy="1057.38" rx="4.39" ry="4.13"/><line x1="746.94" y1="1063.42" x2="751.62" y2="1049.97"/></g><text x="755.32" y="1063.42" font-size="19.5" text-anchor="start">22</text></g>
<g><text x="826.79" y="1063.42" font-size="19.5" text-anchor="start">4-</text><g class="phi" stroke-width="1.66"><ellipse cx="849.97" cy="1057.38" rx="4.39" ry="4.13"/><line x1="847.44" y1="1063.42" x2="852.12" y2="1049.97"/></g><text x="855.82" y="1063.42" font-size="19.5" text-anchor="start">22</text></g>
<text x="947.20" y="1063.42" font-size="19.5" text-anchor="middle" >15°</text>
<text x="52.00" y="1098.23" font-size="19.5" text-anchor="middle" >350</text>
<text x="147.60" y="1098.23" font-size="19.5" text-anchor="middle" >78</text>
<text x="251.00" y="1098.23" font-size="19.5" text-anchor="middle" >505</text>
<text x="353.55" y="1098.23" font-size="19.5" text-anchor="middle" >460</text>
<text x="458.25" y="1098.23" font-size="19.5" text-anchor="middle" >416</text>
<text x="550.45" y="1098.23" font-size="19.5" text-anchor="middle" >2</text>
<text x="645.30" y="1098.23" font-size="19.5" text-anchor="middle" >6-M20</text>
<g><text x="726.29" y="1098.23" font-size="19.5" text-anchor="start">4-</text><g class="phi" stroke-width="1.66"><ellipse cx="749.47" cy="1092.19" rx="4.39" ry="4.13"/><line x1="746.94" y1="1098.23" x2="751.62" y2="1084.78"/></g><text x="755.32" y="1098.23" font-size="19.5" text-anchor="start">22</text></g>
<g><text x="826.79" y="1098.23" font-size="19.5" text-anchor="start">6-</text><g class="phi" stroke-width="1.66"><ellipse cx="849.97" cy="1092.19" rx="4.39" ry="4.13"/><line x1="847.44" y1="1098.23" x2="852.12" y2="1084.78"/></g><text x="855.82" y="1098.23" font-size="19.5" text-anchor="start">22</text></g>
<text x="947.20" y="1098.23" font-size="19.5" text-anchor="middle" >11.25°</text>
<text x="52.00" y="1133.05" font-size="19.5" text-anchor="middle" >400</text>
<text x="147.60" y="1133.05" font-size="19.5" text-anchor="middle" >102</text>
<text x="251.00" y="1133.05" font-size="19.5" text-anchor="middle" >560</text>
<text x="353.55" y="1133.05" font-size="19.5" text-anchor="middle" >515</text>
<text x="458.25" y="1133.05" font-size="19.5" text-anchor="middle" >466</text>
<text x="550.45" y="1133.05" font-size="19.5" text-anchor="middle" >2</text>
<text x="645.30" y="1133.05" font-size="19.5" text-anchor="middle" >6-M24</text>
<g><text x="726.29" y="1133.05" font-size="19.5" text-anchor="start">4-</text><g class="phi" stroke-width="1.66"><ellipse cx="749.47" cy="1127.00" rx="4.39" ry="4.13"/><line x1="746.94" y1="1133.05" x2="751.62" y2="1119.59"/></g><text x="755.32" y="1133.05" font-size="19.5" text-anchor="start">27</text></g>
<g><text x="826.79" y="1133.05" font-size="19.5" text-anchor="start">6-</text><g class="phi" stroke-width="1.66"><ellipse cx="849.97" cy="1127.00" rx="4.39" ry="4.13"/><line x1="847.44" y1="1133.05" x2="852.12" y2="1119.59"/></g><text x="855.82" y="1133.05" font-size="19.5" text-anchor="start">27</text></g>
<text x="947.20" y="1133.05" font-size="19.5" text-anchor="middle" >11.25°</text>
<text x="52.00" y="1167.86" font-size="19.5" text-anchor="middle" >450</text>
<text x="147.60" y="1167.86" font-size="19.5" text-anchor="middle" >114</text>
<text x="251.00" y="1167.86" font-size="19.5" text-anchor="middle" >615</text>
<text x="353.55" y="1167.86" font-size="19.5" text-anchor="middle" >565</text>
<text x="458.25" y="1167.86" font-size="19.5" text-anchor="middle" >520</text>
<text x="550.45" y="1167.86" font-size="19.5" text-anchor="middle" >2</text>
<text x="645.30" y="1167.86" font-size="19.5" text-anchor="middle" >8-M24</text>
<g><text x="726.29" y="1167.86" font-size="19.5" text-anchor="start">6-</text><g class="phi" stroke-width="1.66"><ellipse cx="749.47" cy="1161.82" rx="4.39" ry="4.13"/><line x1="746.94" y1="1167.86" x2="751.62" y2="1154.41"/></g><text x="755.32" y="1167.86" font-size="19.5" text-anchor="start">27</text></g>
<g><text x="826.79" y="1167.86" font-size="19.5" text-anchor="start">6-</text><g class="phi" stroke-width="1.66"><ellipse cx="849.97" cy="1161.82" rx="4.39" ry="4.13"/><line x1="847.44" y1="1167.86" x2="852.12" y2="1154.41"/></g><text x="855.82" y="1167.86" font-size="19.5" text-anchor="start">27</text></g>
<text x="947.20" y="1167.86" font-size="19.5" text-anchor="middle" >9°</text>
<text x="52.00" y="1202.67" font-size="19.5" text-anchor="middle" >500</text>
<text x="147.60" y="1202.67" font-size="19.5" text-anchor="middle" >127</text>
<text x="251.00" y="1202.67" font-size="19.5" text-anchor="middle" >670</text>
<text x="353.55" y="1202.67" font-size="19.5" text-anchor="middle" >620</text>
<text x="458.25" y="1202.67" font-size="19.5" text-anchor="middle" >572</text>
<text x="550.45" y="1202.67" font-size="19.5" text-anchor="middle" >2</text>
<text x="645.30" y="1202.67" font-size="19.5" text-anchor="middle" >8-M24</text>
<g><text x="726.29" y="1202.67" font-size="19.5" text-anchor="start">6-</text><g class="phi" stroke-width="1.66"><ellipse cx="749.47" cy="1196.63" rx="4.39" ry="4.13"/><line x1="746.94" y1="1202.67" x2="751.62" y2="1189.22"/></g><text x="755.32" y="1202.67" font-size="19.5" text-anchor="start">27</text></g>
<g><text x="826.79" y="1202.67" font-size="19.5" text-anchor="start">6-</text><g class="phi" stroke-width="1.66"><ellipse cx="849.97" cy="1196.63" rx="4.39" ry="4.13"/><line x1="847.44" y1="1202.67" x2="852.12" y2="1189.22"/></g><text x="855.82" y="1202.67" font-size="19.5" text-anchor="start">27</text></g>
<text x="947.20" y="1202.67" font-size="19.5" text-anchor="middle" >9°</text>
<text x="52.00" y="1237.49" font-size="19.5" text-anchor="middle" >600</text>
<text x="147.60" y="1237.49" font-size="19.5" text-anchor="middle" >154</text>
<text x="251.00" y="1237.49" font-size="19.5" text-anchor="middle" >780</text>
<text x="353.55" y="1237.49" font-size="19.5" text-anchor="middle" >725</text>
<text x="458.25" y="1237.49" font-size="19.5" text-anchor="middle" >652</text>
<text x="550.45" y="1237.49" font-size="19.5" text-anchor="middle" >2</text>
<text x="645.30" y="1237.49" font-size="19.5" text-anchor="middle" >8-M27</text>
<g><text x="726.29" y="1237.49" font-size="19.5" text-anchor="start">6-</text><g class="phi" stroke-width="1.66"><ellipse cx="749.47" cy="1231.44" rx="4.39" ry="4.13"/><line x1="746.94" y1="1237.49" x2="751.62" y2="1224.03"/></g><text x="755.32" y="1237.49" font-size="19.5" text-anchor="start">30</text></g>
<g><text x="826.79" y="1237.49" font-size="19.5" text-anchor="start">6-</text><g class="phi" stroke-width="1.66"><ellipse cx="849.97" cy="1231.44" rx="4.39" ry="4.13"/><line x1="847.44" y1="1237.49" x2="852.12" y2="1224.03"/></g><text x="855.82" y="1237.49" font-size="19.5" text-anchor="start">30</text></g>
<text x="947.20" y="1237.49" font-size="19.5" text-anchor="middle" >9°</text>
</g>
</svg>
</body></html>
